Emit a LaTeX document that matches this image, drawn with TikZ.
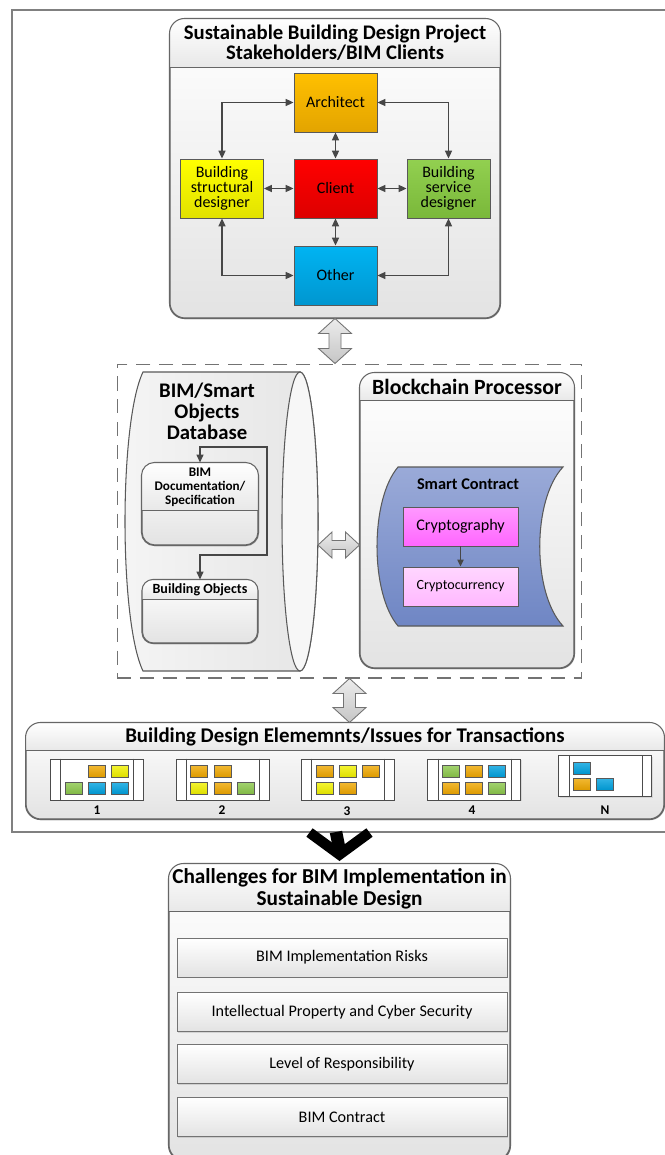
\documentclass[tikz,border=0pt]{standalone}
\usepackage{fontspec}
\setmainfont{Carlito}
\usetikzlibrary{calc,arrows.meta,shadows}
\definecolor{archA}{HTML}{FFC000}\definecolor{archB}{HTML}{E3A400}
\definecolor{clientA}{HTML}{FF0000}\definecolor{clientB}{HTML}{DD0000}
\definecolor{structA}{HTML}{FFFF00}\definecolor{structB}{HTML}{E2E200}
\definecolor{servA}{HTML}{92D050}\definecolor{servB}{HTML}{7AB83A}
\definecolor{otherA}{HTML}{00B4F2}\definecolor{otherB}{HTML}{0096D0}
\definecolor{tileO}{HTML}{F0A800}\definecolor{tileY}{HTML}{F2F200}
\definecolor{tileG}{HTML}{8CC84B}\definecolor{tileB}{HTML}{00A2E0}
\definecolor{scA}{HTML}{9AAAD8}\definecolor{scB}{HTML}{6F86C4}
\definecolor{cryA}{HTML}{FF99FF}\definecolor{cryB}{HTML}{FF66FF}
\definecolor{curA}{HTML}{FFD6FF}\definecolor{curB}{HTML}{FFB8FF}
\tikzset{
  frame/.style={line width=0.6pt, color=black!60},
  panel/.style={draw=black!60, line width=0.6pt, rounded corners=#1, top color=white, bottom color=black!11,
    drop shadow={opacity=0.25, shadow xshift=0.6pt, shadow yshift=-0.8pt}},
  panel/.default=0.3cm,
  stakebox/.style={draw=black!65, line width=0.5pt, minimum width=1.66cm, minimum height=1.18cm, align=center,
    inner sep=1pt, font=\fontsize{9.1}{8.6}\selectfont},
  link/.style={{Triangle[length=4.5pt,width=4pt]}-{Triangle[length=4.5pt,width=4pt]}, line width=0.8pt, color=black!72},
  onelink/.style={-{Triangle[length=4pt,width=3.6pt]}, line width=0.7pt, color=black!72},
  blockarrow/.style={draw=black!55, line width=0.5pt, top color=gray!15, bottom color=gray!45},
  slot/.style={draw=black!70, line width=0.5pt, fill=white, minimum width=1.86cm, minimum height=0.82cm,
    drop shadow={opacity=0.2, shadow xshift=0.6pt, shadow yshift=-0.6pt}},
  tile/.style={draw=black!65, line width=0.4pt},
  numlabel/.style={font=\fontsize{7.6}{8}\selectfont\bfseries},
  heading/.style={font=\fontsize{12}{11.4}\selectfont\bfseries, align=center},
  smallhead/.style={font=\fontsize{7.5}{7.9}\selectfont\bfseries, align=center},
  chalitem/.style={draw=black!55, line width=0.5pt, top color=white, bottom color=black!11, minimum width=6.6cm,
    minimum height=0.78cm, font=\fontsize{9.2}{9}\selectfont, drop shadow={opacity=0.25, shadow xshift=0.6pt, shadow yshift=-0.8pt}},
  chevron/.style={line width=0.21cm, color=black, line join=miter}
}
% header band of a box: name, depth, corner radius
\def\headband#1#2#3{%
  \begin{scope}
    \clip[rounded corners=#3] (#1.north west) rectangle (#1.south east);
    \shade[top color=white, bottom color=black!9] (#1.north west) rectangle ([yshift=-#2]#1.north east);
  \end{scope}
  \draw[frame] ([yshift=-#2]#1.north west) -- ([yshift=-#2]#1.north east);
  \draw[frame, rounded corners=#3] (#1.north west) rectangle (#1.south east);}
% vertical and horizontal double block arrows
\def\vblock#1#2{\draw[blockarrow] let \p1=(#1), \p2=(#2) in (\x1,\y1) -- (\x1+0.33cm,\y1-0.3cm) -- (\x1+0.12cm,\y1-0.3cm)
  -- (\x1+0.12cm,\y2+0.3cm) -- (\x1+0.33cm,\y2+0.3cm) -- (\x1,\y2) -- (\x1-0.33cm,\y2+0.3cm) -- (\x1-0.12cm,\y2+0.3cm)
  -- (\x1-0.12cm,\y1-0.3cm) -- (\x1-0.33cm,\y1-0.3cm) -- cycle;}
\def\hblock#1#2{\draw[blockarrow] let \p1=(#1), \p2=(#2) in (\x1,\y1) -- (\x1+0.28cm,\y1+0.26cm) -- (\x1+0.28cm,\y1+0.09cm)
  -- (\x2-0.28cm,\y1+0.09cm) -- (\x2-0.28cm,\y1+0.26cm) -- (\x2,\y1) -- (\x2-0.28cm,\y1-0.26cm) -- (\x2-0.28cm,\y1-0.09cm)
  -- (\x1+0.28cm,\y1-0.09cm) -- (\x1+0.28cm,\y1-0.26cm) -- cycle;}
% small coloured tile, top left corner in px
\def\tile(#1,#2)#3{\draw[tile, top color=#3!80!white, bottom color=#3!92!black] (#1,#2) rectangle ++(17,12);}

\begin{document}
\begin{tikzpicture}[x=0.02cm, y=-0.02cm]
  %%%%% START %%%%%
  \useasboundingbox[fill=white] (0,0) rectangle (665,1155);

  \draw[line width=0.7pt, color=black!50] (12,10) rectangle (672,832);

  % stakeholders
  \node[panel, minimum width=6.6cm, minimum height=5.98cm] (stake) at (335,168.5) {};
  \headband{stake}{0.98cm}{0.3cm}
  \node[heading, font=\fontsize{11.8}{11.4}\selectfont\bfseries] (staketitle) at (335,43) {Sustainable Building Design Project\\Stakeholders/BIM Clients};

  \node[stakebox, top color=archA, bottom color=archB] (arch) at (335.5,102.5) {Architect};
  \node[stakebox, top color=clientA, bottom color=clientB] (client) at (335.5,188.5) {Client};
  \node[stakebox, top color=structA, bottom color=structB] (struct) at (222,188.5) {Building\\structural\\designer};
  \node[stakebox, top color=servA, bottom color=servB] (serv) at (448.5,188.5) {Building\\service\\designer};
  \node[stakebox, top color=otherA, bottom color=otherB] (other) at (335.5,275.5) {Other};

  \draw[link] (struct.north) |- (arch.west);
  \draw[link] (arch.east) -| (serv.north);
  \draw[link] (struct.south) |- (other.west);
  \draw[link] (other.east) -| (serv.south);
  \draw[link] (arch.south) -- (client.north);
  \draw[link] (struct.east) -- (client.west);
  \draw[link] (client.east) -- (serv.west);
  \draw[link] (client.south) -- (other.north);

  % middle zone
  \node[draw=black!55, line width=0.6pt, dash pattern=on 8pt off 5pt, minimum width=9.3cm, minimum height=6.28cm] (zone) at (349.5,521) {};
  \vblock{stake.south}{zone.north}

  % database
  \draw[line width=0.6pt, color=black!65, left color=black!4, right color=black!10]
    (300,372) -- (143,372) .. controls (119,422) and (119,621) .. (143,671) -- (300,671)
    arc[start angle=90, end angle=-90, x radius=18, y radius=149.5] -- cycle;
  \draw[line width=0.6pt, color=black!65, fill=black!3] (300,521.5) ellipse [x radius=18, y radius=149.5];
  \coordinate (dbtip) at (318,545);
  \node[font=\fontsize{11.8}{12}\selectfont\bfseries, align=center] (dbtitle) at (207,411) {BIM/Smart\\Objects\\Database};

  \node[panel=0.26cm, minimum width=2.32cm, minimum height=1.64cm] (bimdoc) at (200,504) {};
  \headband{bimdoc}{0.96cm}{0.26cm}
  \node[smallhead] (bimdoctitle) at (200,487) {BIM\\Documentation/\\Specification};
  \node[panel=0.22cm, minimum width=2.3cm, minimum height=1.26cm] (bobj) at (200,611.5) {};
  \headband{bobj}{0.4cm}{0.22cm}
  \node[smallhead, font=\fontsize{8}{8}\selectfont\bfseries] (bobjtitle) at (200,590) {Building Objects};
  \coordinate (loopa) at (267,447);
  \coordinate (loopb) at (267,555);
  \draw[link, line width=0.7pt] (bimdoc.north) |- (loopa) -- (loopb) -| (bobj.north);

  % blockchain
  \node[panel, minimum width=4.28cm, minimum height=5.9cm] (chain) at (467,520.5) {};
  \headband{chain}{0.56cm}{0.3cm}
  \node[heading, font=\fontsize{12.4}{12}\selectfont\bfseries] (chaintitle) at (467,387) {Blockchain Processor};
  \hblock{dbtip}{chain.west}

  \draw[line width=0.6pt, color=black!65, top color=scA, bottom color=scB]
    (398,467) -- (563,467) .. controls (532,500) and (532,593) .. (563,626)
    -- (398,626) .. controls (370,593) and (370,500) .. (398,467) -- cycle;
  \node[font=\fontsize{9.3}{9}\selectfont\bfseries] (sctitle) at (468,484) {Smart Contract};
  \node[draw=black!65, line width=0.5pt, top color=cryA, bottom color=cryB, minimum width=2.3cm, minimum height=0.78cm,
    font=\fontsize{9.2}{9}\selectfont] (crypto) at (460.5,526.5) {Cryptography};
  \node[draw=black!65, line width=0.5pt, top color=curA, bottom color=curB, minimum width=2.3cm, minimum height=0.78cm,
    font=\fontsize{8}{8}\selectfont] (ccur) at (460.5,586.5) {Cryptocurrency};
  \draw[onelink] (crypto.south) -- (ccur.north);

  % design elements
  \node[panel, minimum width=12.76cm, minimum height=1.92cm] (bde) at (345,771) {};
  \headband{bde}{0.56cm}{0.3cm}
  \node[heading, font=\fontsize{11.9}{12}\selectfont\bfseries] (bdetitle) at (345,737) {Building Design Elememnts/Issues for Transactions};
  \vblock{zone.south}{bde.north}

  \foreach \name/\px/\py in {p1/96.5/779.5, p2/222.5/779.5, p3/347.5/779.5, p4/474/779.5, pN/605/776}{
    \node[slot] (\name) at (\px,\py) {};
    \draw[line width=0.5pt, color=black!70] ([xshift=0.22cm]\name.north west) -- ([xshift=0.22cm]\name.south west);
    \draw[line width=0.5pt, color=black!70] ([xshift=-0.2cm]\name.north east) -- ([xshift=-0.2cm]\name.south east);
  }
  \tile(88,765){tileO} \tile(111,765){tileY} \tile(65,782){tileG} \tile(88,782){tileB} \tile(111,782){tileB}
  \tile(190,765){tileO} \tile(214,765){tileO} \tile(190,782){tileY} \tile(214,782){tileO} \tile(237,782){tileG}
  \tile(316,765){tileO} \tile(339,765){tileY} \tile(362,765){tileO} \tile(316,782){tileY} \tile(339,782){tileO}
  \tile(442,765){tileG} \tile(465,765){tileO} \tile(488,765){tileB} \tile(442,782){tileO} \tile(465,782){tileO} \tile(488,782){tileG}
  \tile(573,762){tileB} \tile(573,778){tileO} \tile(596,778){tileB}
  \node[numlabel] (n1) at (97,810) {1};
  \node[numlabel] (n2) at (222,810) {2};
  \node[numlabel] (n3) at (347,811) {3};
  \node[numlabel] (n4) at (472,810) {4};
  \node[numlabel] (nN) at (605,810) {N};

  % challenges
  \node[panel, minimum width=6.82cm, minimum height=5.92cm] (chal) at (339.5,1012) {};
  \headband{chal}{0.96cm}{0.3cm}
  \node[heading, font=\fontsize{12.1}{12.4}\selectfont\bfseries] (chaltitle) at (339.5,889) {Challenges for BIM Implementation in\\Sustainable Design};
  \node[chalitem] (risk) at (342,957.5) {BIM Implementation Risks};
  \node[chalitem] (ip) at (342,1012) {Intellectual Property and Cyber Security};
  \node[chalitem] (resp) at (342,1064) {Level of Responsibility};
  \node[chalitem] (contract) at (342,1117) {BIM Contract};

  \coordinate (framebot) at (336,832);
  \coordinate (vtip) at ([yshift=0.18cm]chal.north);
  \draw[chevron] ([shift={(-30,-22)}]vtip) -- (vtip) -- ([shift={(30,-22)}]vtip);
  \draw[line width=0.25cm] (framebot) -- ([yshift=0.1cm]vtip);
  %%%%% END %%%%%
\end{tikzpicture}
\end{document}
